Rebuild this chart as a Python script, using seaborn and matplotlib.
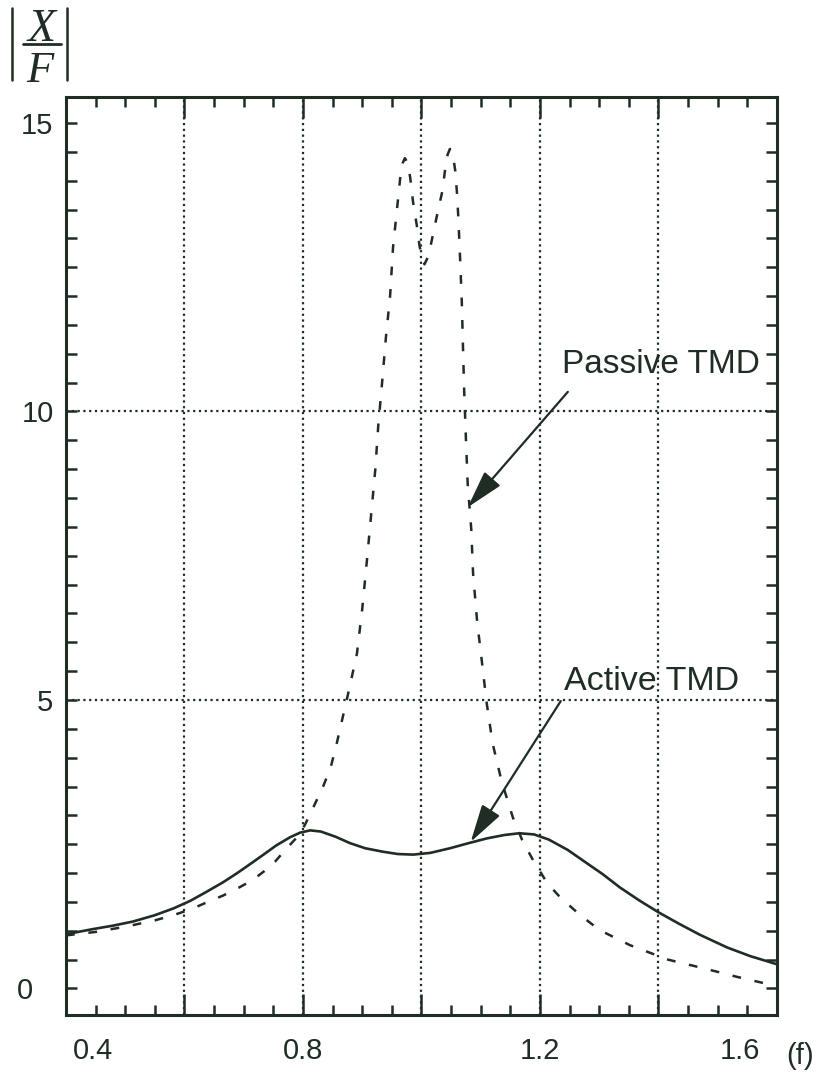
import matplotlib
matplotlib.use("Agg")
import matplotlib.pyplot as plt
import pandas as pd
import seaborn as sns
from matplotlib.lines import Line2D
from matplotlib.ticker import FixedLocator, MultipleLocator
from matplotlib.transforms import ScaledTranslation

# Frequency response |X/F| of the structure with an active and a passive TMD
freq_active = [0.40, 0.446, 0.48, 0.513, 0.55, 0.582, 0.61, 0.638, 0.665, 0.689,
               0.71, 0.732, 0.755, 0.778, 0.795, 0.812, 0.83, 0.855, 0.879, 0.905,
               0.935, 0.96, 0.986, 1.015, 1.048, 1.08, 1.11, 1.14, 1.165, 1.19,
               1.215, 1.247, 1.275, 1.306, 1.335, 1.367, 1.40, 1.435, 1.47, 1.516,
               1.555, 1.60]
amp_active = [0.94, 1.03, 1.09, 1.16, 1.27, 1.39, 1.52, 1.68, 1.84, 2.00,
              2.15, 2.31, 2.48, 2.62, 2.70, 2.74, 2.72, 2.63, 2.52, 2.43,
              2.37, 2.33, 2.32, 2.35, 2.43, 2.52, 2.60, 2.66, 2.69, 2.67,
              2.58, 2.40, 2.20, 1.98, 1.75, 1.53, 1.32, 1.12, 0.93, 0.71,
              0.56, 0.42]

freq_passive = [0.40, 0.45, 0.50, 0.55, 0.581, 0.61, 0.635, 0.665, 0.694, 0.715,
                0.733, 0.753, 0.77, 0.788, 0.803, 0.817, 0.834, 0.847, 0.857, 0.876,
                0.891, 0.90, 0.908, 0.915, 0.922, 0.927, 0.933, 0.94, 0.947, 0.952,
                0.959, 0.964, 0.968, 0.972, 0.977, 0.981, 0.986, 0.992, 0.997, 1.005,
                1.012, 1.018, 1.026, 1.035, 1.04, 1.044, 1.048, 1.053, 1.057, 1.06,
                1.062, 1.065, 1.068, 1.07, 1.072, 1.075, 1.078, 1.084, 1.087, 1.094,
                1.102, 1.11, 1.12, 1.135, 1.154, 1.17, 1.188, 1.212, 1.234, 1.268,
                1.301, 1.352, 1.416, 1.48, 1.533, 1.583, 1.60]
amp_passive = [0.92, 0.98, 1.07, 1.18, 1.27, 1.37, 1.48, 1.61, 1.76, 1.88,
               2.02, 2.20, 2.40, 2.60, 2.83, 3.13, 3.50, 3.84, 4.25, 5.10,
               5.80, 6.58, 7.43, 8.21, 8.99, 9.75, 10.44, 11.29, 12.00, 12.85,
               13.54, 14.04, 14.30, 14.39, 14.30, 14.05, 13.61, 13.23, 12.85, 12.55,
               12.70, 13.00, 13.39, 13.81, 14.20, 14.45, 14.55, 14.45, 14.17, 13.77,
               13.39, 12.69, 11.91, 11.13, 10.37, 9.52, 8.74, 7.96, 7.20, 6.35,
               5.66, 4.95, 4.25, 3.60, 2.97, 2.57, 2.23, 1.83, 1.58, 1.27,
               1.01, 0.75, 0.50, 0.34, 0.20, 0.08, 0.05]

x_ticks = [0.4, 0.6, 0.8, 1.0, 1.2, 1.4, 1.6]
x_tick_labels = ["0.4", "", "0.8", "", "1.2", "", "1.6"]
y_ticks = [0, 5, 10, 15]
y_tick_labels = ["0", "5", "10", "15"]
x_grid = [0.6, 0.8, 1.0, 1.2, 1.4]
y_grid = [5, 10]

sns.set_theme(style="white")
plt.rcParams["font.family"] = ["Liberation Sans", "DejaVu Sans"]

ink = "#1f2d24"

fig = plt.figure(figsize=(8.25, 10.79), dpi=100)
fig.patch.set_facecolor("white")
ax = fig.add_axes([0.08, 0.0593, 0.8618, 0.8508])
ax.set_facecolor("white")

# dotted reference grid
for g in x_grid:
    ax.axvline(g, color=ink, lw=1.6, linestyle=(0, (1, 1.6)), zorder=1)
for g in y_grid:
    ax.axhline(g, color=ink, lw=1.6, linestyle=(0, (1, 1.6)), zorder=1)

df_active = pd.DataFrame({"f": freq_active, "amp": amp_active})
df_passive = pd.DataFrame({"f": freq_passive, "amp": amp_passive})

sns.lineplot(data=df_passive, x="f", y="amp", ax=ax, color=ink, lw=1.8,
             linestyle=(0, (3.5, 5.5)), zorder=3)
sns.lineplot(data=df_active, x="f", y="amp", ax=ax, color=ink, lw=1.9, zorder=3)

ax.set_xlim(0.4, 1.6)
ax.set_ylim(-0.46, 15.45)
ax.set_xlabel("")
ax.set_ylabel("")

ax.xaxis.set_major_locator(FixedLocator(x_ticks))
ax.set_xticklabels(x_tick_labels)
ax.xaxis.set_minor_locator(MultipleLocator(0.05))
ax.yaxis.set_major_locator(FixedLocator(y_ticks))
ax.set_yticklabels(y_tick_labels)
ax.yaxis.set_minor_locator(MultipleLocator(0.5))

ax.tick_params(which="both", direction="in", top=True, right=True,
               bottom=True, left=True, color=ink, width=1.8)
ax.tick_params(axis="x", which="major", length=15, pad=16, labelsize=21,
               labelcolor=ink)
ax.tick_params(axis="x", which="minor", length=7)
ax.tick_params(axis="y", which="both", length=8)
ax.tick_params(axis="y", which="major", pad=9, labelsize=21, labelcolor=ink)

for s in ax.spines.values():
    s.set_visible(True)
    s.set_color(ink)
    s.set_linewidth(2.2)

# nudge the end labels inward, as printed
xl = ax.get_xticklabels()
xl[0].set_transform(xl[0].get_transform() + ScaledTranslation(0.27, 0, fig.dpi_scale_trans))
xl[-1].set_transform(xl[-1].get_transform() + ScaledTranslation(-0.37, 0, fig.dpi_scale_trans))
yl = ax.get_yticklabels()
yl[0].set_transform(yl[0].get_transform() + ScaledTranslation(-0.2, 0, fig.dpi_scale_trans))

# curve annotations
ax.text(1.237, 10.67, "Passive TMD", fontsize=24, color=ink, ha="left", va="baseline")
ax.text(1.24, 5.18, "Active TMD", fontsize=24.5, color=ink, ha="left", va="baseline")
arrow = dict(arrowstyle="-|>,head_length=0.9,head_width=0.25", mutation_scale=26,
             lw=1.6, color=ink, shrinkA=0, shrinkB=0)
ax.annotate("", xy=(1.078, 8.34), xytext=(1.247, 10.34), arrowprops=arrow)
ax.annotate("", xy=(1.083, 2.54), xytext=(1.235, 4.98), arrowprops=arrow)

# y-axis quantity |X/F| drawn as a stacked fraction between bars
W, H = 825.0, 1079.0
serif = ["Liberation Serif", "DejaVu Serif"]
fig.text(41.5 / W, 1 - 41 / H, "X", family=serif, style="italic", fontsize=33,
         color=ink, ha="center", va="baseline")
fig.text(40 / W, 1 - 82 / H, "F", family=serif, style="italic", fontsize=32,
         color=ink, ha="center", va="baseline")
fig.add_artist(Line2D([23 / W, 61 / W], [1 - 44 / H, 1 - 44 / H],
                      transform=fig.transFigure, color=ink, lw=2.0))
for bx in (12, 67):
    fig.add_artist(Line2D([bx / W, bx / W], [1 - 8 / H, 1 - 80 / H],
                          transform=fig.transFigure, color=ink, lw=1.8))

fig.text(800 / W, 1 - 1056 / H, "(f)", fontsize=21, color=ink,
         ha="center", va="center")

fig.savefig("out.png", dpi=100, facecolor="white")
